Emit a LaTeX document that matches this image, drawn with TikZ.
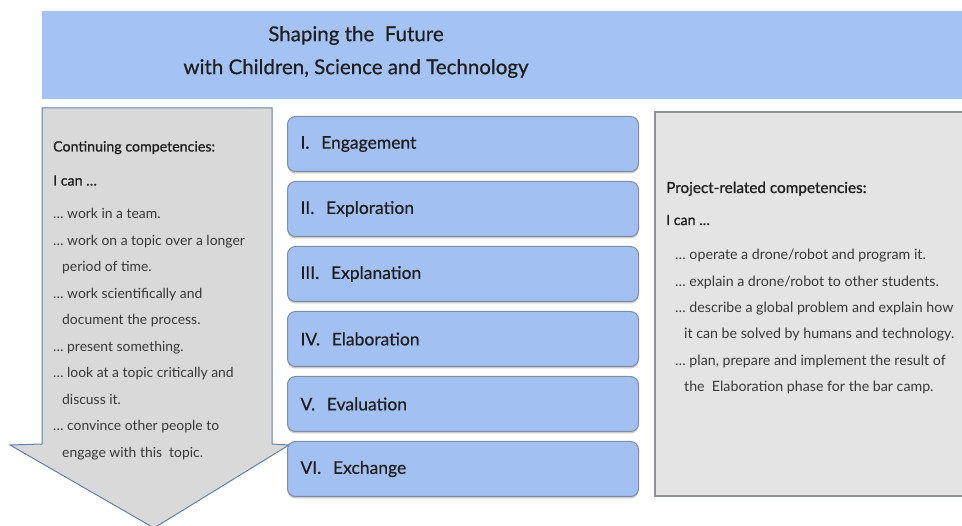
\documentclass[tikz,border=0pt]{standalone}
\usepackage{fontspec}
\setmainfont{Lato}
\newfontfamily\headfont{Lato}[FakeBold=0.9]
\newfontfamily\labelfont{Lato}[FakeBold=0.5]
\usetikzlibrary{shadows}

\definecolor{bannerblue}{HTML}{A4C2F4}
\definecolor{phaseblue}{HTML}{A3C0F2}
\definecolor{phaseedge}{HTML}{7D8DA6}
\definecolor{arrowfill}{HTML}{D9D9D9}
\definecolor{arrowedge}{HTML}{6480AA}
\definecolor{panelfill}{HTML}{E4E4E4}
\definecolor{paneledge}{HTML}{8E9298}
\definecolor{ink}{HTML}{1E1E1E}
\definecolor{softink}{HTML}{383838}

\tikzset{
  phase/.style={draw=phaseedge, line width=1pt, fill=phaseblue, rounded corners=8pt,
    minimum width=351pt, minimum height=55pt, anchor=north west,
    text=ink, font=\labelfont\fontsize{17.5}{20}\selectfont, align=left,
    inner xsep=13pt, text width=325pt,
    drop shadow={shadow xshift=0pt, shadow yshift=-2pt, opacity=0.35, fill=black!60}},
  headtext/.style={text=ink, font=\labelfont\fontsize{20.5}{33}\selectfont, align=center},
  listtext/.style={text=softink, inner sep=0pt, anchor=base west},
  listhead/.style={text=ink, inner sep=0pt, anchor=base west},
}
% a left-aligned column of lines whose baseline is its first line
\newenvironment{linecol}{\begin{tabular}[t]{@{}l@{}}}{\end{tabular}}

\begin{document}
\begin{tikzpicture}[x=1pt, y=-1pt]
  \useasboundingbox (0,0) rectangle (962,526);
  \clip (0,0) rectangle (962,526);

  % title banner
  \fill[bannerblue] (42,11) rectangle (975,99);
  \node[headtext] (title) at (356,52)
    {Shaping the \ Future\\with Children, Science and Technology};

  % downward arrow holding the continuing competencies
  \filldraw[fill=arrowfill, draw=arrowedge, line width=1pt]
    (42,108) -- (272,108) -- (272,444) -- (289,445) -- (154,528)
    -- (10,445) -- (42,444) -- cycle;
  \node[listhead, font=\headfont\fontsize{14.2}{16}\selectfont] (conthead) at (53,151.5)
    {Continuing competencies:};
  \node[listhead, font=\headfont\fontsize{14.2}{16}\selectfont] (contcan) at (53,185.5)
    {I can \ldots};
  \node[listtext, font=\fontsize{13.9}{26.5}\selectfont] (contlist) at (53,219)
    {\begin{linecol}
     \ldots\ work in a team.\\
     \ldots\ work on a topic over a longer\\
     \hspace*{9pt}period of time.\\
     \ldots\ work scientifically and\\
     \hspace*{9pt}document the process.\\
     \ldots\ present something.\\
     \ldots\ look at a topic critically and\\
     \hspace*{9pt}discuss it.\\
     \ldots\ convince other people to\\
     \hspace*{9pt}engage with this \ topic.
     \end{linecol}};

  % project-related competencies panel
  \filldraw[fill=panelfill, draw=paneledge, line width=1.5pt]
    (655,112) rectangle (975,496);
  \node[listhead, font=\headfont\fontsize{15.3}{18}\selectfont] (projhead) at (666,193)
    {Project-related competencies:};
  \node[listhead, font=\headfont\fontsize{14.2}{16}\selectfont] (projcan) at (666,225)
    {I can \ldots};
  \node[listtext, font=\fontsize{14.2}{26.3}\selectfont] (projlist) at (675,260)
    {\begin{linecol}
     \ldots\ operate a drone/robot and program it.\\
     \ldots\ explain a drone/robot to other students.\\
     \ldots\ describe a global problem and explain how\\
     \hspace*{9pt}it can be solved by humans and technology.\\
     \ldots\ plan, prepare and implement the result of\\
     \hspace*{9pt}the \ Elaboration phase for the bar camp.
     \end{linecol}};

  % the six phases
  \node[phase] (p1) at (287,116) {I. \ Engagement};
  \node[phase] (p2) at (287,181) {II. \ Exploration};
  \node[phase] (p3) at (287,246) {III. \ Explanation};
  \node[phase] (p4) at (287,311) {IV. \ Elaboration};
  \node[phase] (p5) at (287,376) {V. \ Evaluation};
  \node[phase] (p6) at (287,441) {VI. \ Exchange};
\end{tikzpicture}
\end{document}
